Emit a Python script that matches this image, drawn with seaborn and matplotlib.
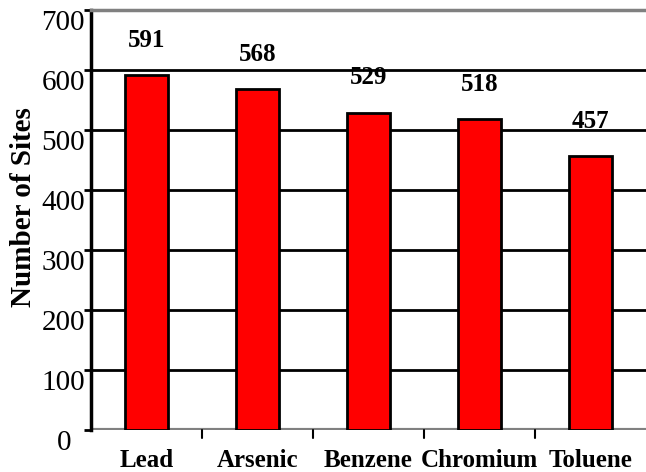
import matplotlib
matplotlib.use("Agg")
import matplotlib.pyplot as plt
import matplotlib.transforms as mtransforms
import seaborn as sns
import pandas as pd

# values
chemicals = ["Lead", "Arsenic", "Benzene", "Chromium", "Toluene"]
sites = [591, 568, 529, 518, 457]
y_ticks = [0, 100, 200, 300, 400, 500, 600, 700]

df = pd.DataFrame({"chemical": chemicals, "sites": sites})

sns.set_style("white")
plt.rcParams["font.family"] = ["Liberation Serif", "DejaVu Serif"]
plt.rcParams["text.color"] = "black"
plt.rcParams["axes.labelcolor"] = "black"
plt.rcParams["xtick.color"] = "black"
plt.rcParams["ytick.color"] = "black"

fig = plt.figure(figsize=(6.46, 4.72), dpi=100)
ax = fig.add_axes([91 / 646, 42 / 472, 555 / 646, 420 / 472])

sns.barplot(data=df, x="chemical", y="sites", color="#ff0000", edgecolor="black",
            linewidth=2, width=0.38, saturation=1, ax=ax, zorder=3)

ax.set_ylim(0, 700)
ax.set_xlim(-0.5, 4.5)
ax.set_yticks(y_ticks)
ax.set_yticklabels([])
# tick labels sit a little below their ticks in the original, so draw them by hand
for t in y_ticks:
    dx = -20 if t == 0 else -6
    shift = mtransforms.ScaledTranslation(dx / 100, -13 / 100, fig.dpi_scale_trans)
    ax.text(0, t, str(t), transform=ax.get_yaxis_transform() + shift,
            ha="right", va="center", fontsize=21)

for t in y_ticks[1:-1]:
    ax.axhline(t, color="black", lw=2, zorder=1)
ax.axhline(0, color="#808080", lw=3, zorder=1)

for i, v in enumerate(sites):
    ax.text(i, v + 58, str(v), ha="center", va="center", fontsize=18, fontweight="bold")

ax.set_xticks(range(len(chemicals)))
ax.set_xticklabels(chemicals, fontsize=18, fontweight="bold")
ax.tick_params(axis="x", length=0, pad=14)
ax.tick_params(axis="y", length=5, width=2, direction="out", left=True, pad=2)
for b in [0.5, 1.5, 2.5, 3.5]:
    ax.plot([b, b], [0, -0.02], transform=ax.get_xaxis_transform(), color="black",
            lw=1.5, clip_on=False)

ax.set_xlabel("")
ax.set_ylabel("Number of Sites", fontsize=21, fontweight="bold")
ax.yaxis.set_label_coords(-0.097, 0.53)

for s in ["right", "bottom"]:
    ax.spines[s].set_visible(False)
ax.spines["top"].set_color("#808080")
ax.spines["top"].set_linewidth(2.5)
ax.spines["left"].set_color("black")
ax.spines["left"].set_linewidth(2.5)

fig.savefig("out.png", dpi=100)
